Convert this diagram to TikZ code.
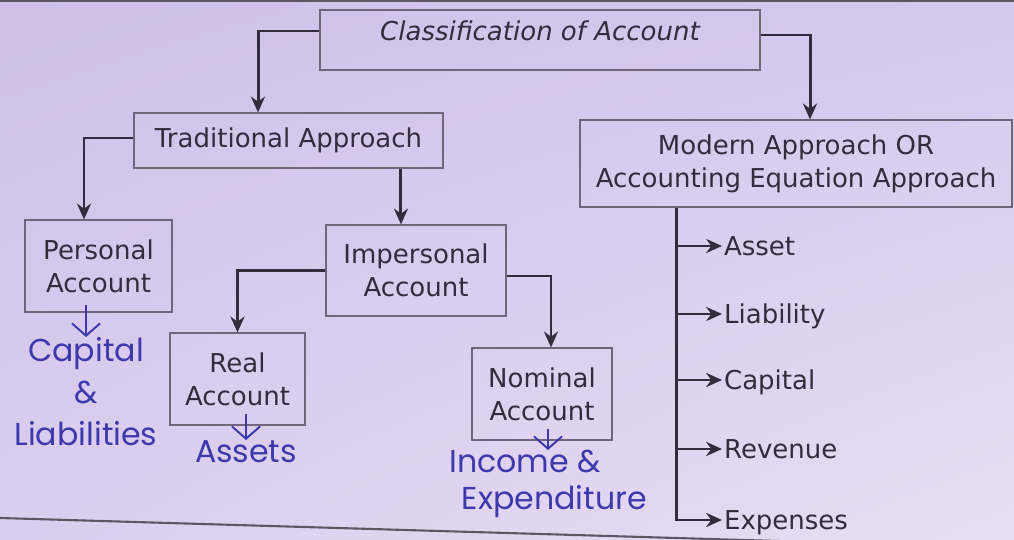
\documentclass[tikz,border=0pt]{standalone}
\usepackage{fontspec}
\setmainfont{DejaVu Sans}
\newfontfamily\handfont{Poppins}
\usetikzlibrary{arrows.meta, shadings}
\definecolor{bgA}{RGB}{208,192,232}
\definecolor{bgB}{RGB}{214,200,236}
\definecolor{bgC}{RGB}{218,206,238}
\definecolor{bgD}{RGB}{232,222,244}
\definecolor{ink}{RGB}{52,44,62}
\definecolor{boxline}{RGB}{112,102,124}
\definecolor{pen}{RGB}{62,56,172}
\newcommand\boxfont{\fontsize{14.8}{18.8}\selectfont}
\tikzset{
  approach/.style={
    rectangle,
    minimum height=1.1cm,
    align=center,
    draw=boxline,
    line width=0.7pt,
    text=ink,
    font=\boxfont
    },
  account/.style={
    rectangle,
    minimum height=1.84cm,
    align=center,
    draw=boxline,
    line width=0.7pt,
    text=ink,
    font=\boxfont
    },
  leaf/.style={
    anchor=west,
    inner xsep=1pt,
    text height=0.38cm,
    text depth=0pt,
    text=ink,
    font=\boxfont
    },
  arrow/.style={line width=1.7pt, draw=ink, -{Stealth[length=9pt,width=8pt]}},
  note/.style={
    anchor=north,
    inner sep=0pt,
    text=pen,
    font=\handfont\fontsize{18}{21}\selectfont
    },
  penarrow/.style={draw=pen, line width=1.1pt, -{Straight Barb[length=7pt,width=16pt]}},
}

\begin{document}
\begin{tikzpicture}[x=0.02cm, y=-0.02cm]
  \useasboundingbox (0,0) rectangle (1014,540);
  \shade[upper left=bgA, upper right=bgB, lower left=bgC, lower right=bgD]
    (0,0) rectangle (1014,540);
  \draw[ink!80, line width=1.2pt] (0,1) -- (1014,1);
  \draw[ink!80, line width=1.2pt] (0,518) -- (1014,548);

  % boxes
  \node[approach, minimum width=8.8cm, text height=0.61cm, text depth=0.59cm,
        inner ysep=0pt, font=\boxfont\itshape] (cls) at (540,40) {Classification of Account};
  \node[approach, minimum width=6.18cm] (trad) at (288.5,140.5) {Traditional Approach};
  \node[approach, minimum width=8.64cm, minimum height=1.74cm] (modern) at (796,163.5)
    {Modern Approach OR\\Accounting Equation Approach};
  \node[account, minimum width=2.94cm] (personal) at (98.5,266) {Personal\\Account};
  \node[account, minimum width=3.6cm, minimum height=1.82cm] (imp) at (416,270.5) {Impersonal\\Account};
  \node[account, minimum width=2.7cm] (real) at (237.5,379) {Real\\Account};
  \node[account, minimum width=2.8cm] (nominal) at (542,394) {Nominal\\Account};

  % connectors
  \draw[arrow] ([yshift=0.18cm]cls.west) -| ([xshift=-0.61cm]trad.north);
  \draw[arrow] ([yshift=0.1cm]cls.east) -| ([xshift=0.28cm]modern.north);
  \draw[arrow] ([yshift=0.05cm]trad.west) -| ([xshift=-0.29cm]personal.north);
  \draw[arrow] ([xshift=2.25cm]trad.south) -- ([xshift=2.25cm]trad.south |- imp.north);
  \draw[arrow] (imp.west) -| (real.north);
  \draw[arrow] ([yshift=-0.11cm]imp.east) -| ([xshift=0.18cm]nominal.north);

  % modern approach branches
  \coordinate (trunk) at ([xshift=-2.4cm]modern.south);
  \foreach \name/\txt/\y in {asset/Asset/246, liability/Liability/314,
      capital/Capital/380, revenue/Revenue/449, expenses/Expenses/520}
    \node[leaf] (\name) at (722,\y) {\txt};
  \foreach \name in {asset, liability, capital, revenue}
    \draw[arrow] (trunk |- \name.west) -- (\name.west);
  \draw[arrow] (trunk) |- (expenses.west);

  % hand notes
  \node[note, align=center] (capliab) at (86,337) {Capital\\[3pt]\&\\[3pt]Liabilities};
  \node[note] (assets) at (246,440) {Assets};
  \node[note, align=left] (income) at (548,450) {Income \&\\\hspace*{0.4em}Expenditure};
  \draw[penarrow] ([yshift=0.16cm]personal.south -| capliab.north) -- (capliab.north);
  \draw[penarrow] ([yshift=0.24cm]real.south -| assets.north) -- (assets.north);
  \draw[penarrow] ([yshift=0.24cm]nominal.south -| income.north) -- (income.north);
\end{tikzpicture}
\end{document}
